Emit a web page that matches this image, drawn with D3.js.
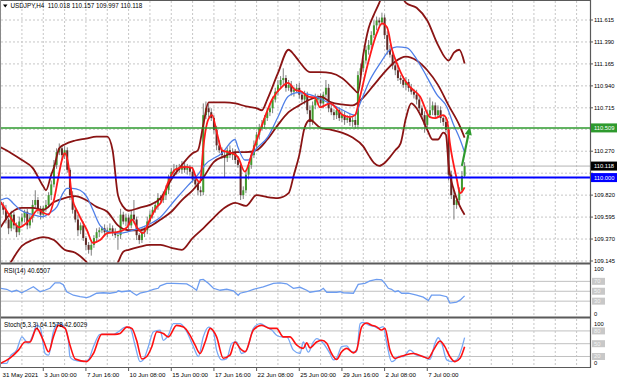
<!DOCTYPE html>
<html><head><meta charset="utf-8">
<script src="https://cdn.jsdelivr.net/npm/d3@7"></script>
<style>html,body{margin:0;padding:0;background:#fff;}svg{display:block;font-family:"Liberation Sans",Arial,sans-serif;}</style>
</head><body><svg id="c" width="620" height="383"></svg>
<script>
// ---------------- DATA ----------------
const symbolTitle = "USDJPY,H4  110.018 110.157 109.997 110.118";
const rsiTitle = "RSI(14) 40.6507";
const stochTitle = "Stoch(5,3,3) 64.1578 42.6029";
const firstOpen = 109.75;
const closes = [
109.72,109.67,109.57,109.48,109.62,109.51,109.44,109.55,109.59,109.65,
109.51,109.59,109.72,109.77,109.67,109.62,109.69,109.72,109.82,109.93,
110.13,110.26,110.30,110.23,110.28,110.08,109.82,109.67,109.57,109.46,
109.51,109.38,109.31,109.26,109.31,109.38,109.44,109.46,109.48,109.44,
109.46,109.48,109.44,109.41,109.41,109.62,109.55,109.59,109.51,109.62,
109.57,109.41,109.36,109.44,109.46,109.55,109.62,109.67,109.72,109.79,
109.77,109.82,109.87,110.00,110.06,110.08,110.10,110.08,110.12,110.08,
110.10,110.06,109.98,109.93,109.87,109.85,110.64,110.71,110.67,110.61,
110.49,110.33,110.28,110.23,110.20,110.28,110.23,110.26,110.18,110.13,
109.82,109.87,110.03,110.13,110.23,110.33,110.44,110.51,110.54,110.61,
110.67,110.71,110.80,110.88,110.95,111.00,111.02,110.92,110.95,110.88,
110.90,110.92,110.85,110.80,110.85,110.69,110.57,110.74,110.80,110.82,
110.76,110.85,110.92,110.71,110.67,110.64,110.69,110.61,110.64,110.59,
110.61,110.57,110.59,110.54,111.05,111.12,111.20,111.31,111.36,111.46,
111.56,111.61,111.59,111.64,111.46,111.31,111.26,111.15,111.10,111.02,
111.00,110.95,110.98,110.92,110.88,110.85,110.80,110.71,110.64,110.54,
110.64,110.69,110.74,110.64,110.69,110.61,110.57,110.49,110.03,109.82,
109.72,109.77,109.87,110.018,110.118];
// wick lengths in hundredths of a yen
const upperWick = [
4,3,5,2,4,3,3,5,4,2, 3,4,5,10,3,4,2,5,3,4, 5,4,5,3,4,3,2,4,3,5, 3,4,2,3,5,3,4,3,2,4,
3,5,3,4,3,6,3,4,3,5, 15,3,2,4,3,5,4,3,4,5, 3,4,5,3,4,6,3,4,5,3, 4,3,5,4,3,4,12,7,5,4,
3,4,5,3,4,3,5,4,3,4, 3,4,5,3,4,5,3,4,5,3, 4,5,3,4,5,4,10,3,5,4, 3,4,5,3,4,3,5,4,6,3,
4,3,8,4,5,3,4,3,5,4, 3,4,3,5,4,5,3,4,5,4, 5,4,3,5,3,4,5,3,4,5, 3,4,5,3,4,3,5,4,3,4,
5,13,4,3,5,4,3,5,3,4, 5,4,3,5,4];
const lowerWick = [
3,5,4,6,3,4,5,3,4,5, 4,3,5,3,4,5,3,4,3,5, 3,4,3,5,4,3,5,4,3,6, 4,3,5,4,6,3,4,5,3,4,
5,3,4,3,15,4,3,5,4,3, 4,5,4,3,5,4,3,4,3,5, 4,3,5,4,3,4,5,3,4,3, 5,4,3,4,5,4,3,4,5,3,
4,5,3,4,20,4,3,5,4,3, 5,4,3,5,4,3,4,5,3,4, 3,4,5,3,4,3,5,4,3,4, 5,3,4,3,5,4,5,3,4,5,
4,5,3,4,3,5,4,3,4,5, 3,4,5,4,3,5,4,3,5,4, 3,5,4,3,4,5,3,4,5,3, 4,3,5,4,3,4,5,3,4,8,
4,3,5,4,3,5,4,3,6,4, 15,4,5,3,2];

const priceTicks = [109.145,109.370,109.595,109.820,110.045,110.270,110.495,110.715,110.940,111.165,111.390,111.615];
const hiddenTicks = [110.045,110.495]; // labels covered by the level boxes
const dateBars = [0,16,32,48,64,80,96,112,128,144,160];
const dateLabels = ["31 May 2021","3 Jun 00:00","7 Jun 16:00","10 Jun 08:00","15 Jun 00:00","17 Jun 16:00","22 Jun 08:00","25 Jun 00:00","29 Jun 16:00","2 Jul 08:00","7 Jul 00:00"];

const greenLevel = 110.509, blueLevel = 110.000, bidLevel = 110.118;
const arrowFrom = [173.0, 110.12], arrowTo = [176.0, 110.52];

// [bar, price]
const bbUpper = [[0,110.31],[4,110.25],[8,110.18],[12,110.10],[16,109.91],[17,109.87],[19,110.03],[20,110.10],[22,110.30],[24,110.34],[28,110.38],[32,110.40],[36,110.42],[40,110.42],[42,110.28],[44,109.82],[46,109.70],[48,109.66],[52,109.69],[56,109.72],[60,109.79],[64,109.98],[68,110.13],[72,110.25],[74,110.28],[76,110.54],[78,110.77],[84,110.77],[88,110.76],[92,110.73],[96,110.71],[98,110.69],[100,110.80],[104,111.07],[108,111.31],[110,111.26],[112,111.19],[116,111.08],[120,111.08],[124,111.07],[128,111.02],[132,110.92],[134,110.87],[136,111.26],[138,111.53],[140,111.67],[142,111.79],[144,111.94],[148,111.97],[152,111.79],[156,111.74],[160,111.61],[164,111.36],[168,111.20],[170,111.28],[172,111.31],[174,111.17]];
const bbMiddle = [[0,109.49],[4,109.64],[8,109.69],[12,109.69],[16,109.67],[20,109.75],[24,109.79],[28,109.81],[32,109.77],[36,109.70],[40,109.65],[44,109.51],[48,109.46],[52,109.46],[56,109.50],[60,109.57],[64,109.65],[68,109.77],[72,109.87],[76,110.00],[80,110.16],[84,110.22],[88,110.26],[92,110.26],[96,110.28],[100,110.39],[104,110.54],[108,110.67],[112,110.74],[116,110.80],[120,110.83],[124,110.77],[128,110.75],[132,110.74],[136,110.82],[140,110.95],[144,111.08],[148,111.19],[152,111.24],[156,111.20],[160,111.10],[164,110.95],[168,110.74],[172,110.54],[174,110.41]];
const bbLower = [[0,108.95],[4,109.14],[8,109.30],[12,109.36],[16,109.39],[20,109.36],[24,109.26],[28,109.23],[32,109.14],[36,109.00],[40,108.95],[44,109.13],[46,109.24],[48,109.26],[52,109.29],[56,109.31],[60,109.31],[64,109.28],[68,109.26],[72,109.38],[76,109.48],[80,109.59],[84,109.69],[88,109.74],[92,109.71],[96,109.82],[100,109.80],[104,109.79],[108,109.84],[110,110.03],[112,110.23],[114,110.51],[116,110.59],[120,110.51],[124,110.49],[128,110.46],[132,110.41],[136,110.32],[138,110.23],[140,110.15],[142,110.12],[144,110.15],[146,110.21],[148,110.28],[150,110.35],[152,110.61],[154,110.76],[156,110.71],[158,110.61],[160,110.49],[162,110.39],[164,110.39],[166,110.46],[167,110.44],[168,110.13],[170,109.87],[172,109.72],[174,109.62]];
const maFast = [[0,109.75],[2,109.67],[5,109.54],[7,109.49],[11,109.57],[14,109.67],[16,109.64],[18,109.62],[20,109.77],[21.5,109.98],[23,110.18],[24,110.25],[25.3,110.15],[26.8,109.80],[29,109.64],[32.4,109.46],[34.6,109.33],[37.3,109.36],[40,109.43],[43.6,109.44],[47.4,109.49],[49.3,109.57],[51.1,109.49],[53.4,109.43],[56,109.57],[58.6,109.70],[60,109.74],[62.8,109.95],[65.4,110.08],[69.1,110.11],[71.8,110.10],[73.6,109.98],[74.8,109.95],[75.9,110.28],[77.8,110.59],[79.3,110.64],[81.1,110.46],[83,110.28],[86.8,110.25],[89,110.21],[91.6,110.06],[94.3,110.25],[96.5,110.42],[99.1,110.62],[101.8,110.80],[105.5,110.93],[107.8,110.97],[110.4,110.90],[113,110.88],[115.3,110.83],[117.9,110.82],[119.8,110.72],[123.5,110.76],[128.4,110.64],[131,110.62],[132.9,110.64],[134.8,110.83],[137.4,111.13],[141.1,111.48],[143,111.58],[144.9,111.54],[146.8,111.31],[148.6,111.17],[150.9,111.03],[153.5,110.93],[157.3,110.83],[161,110.62],[162.9,110.61],[165.9,110.64],[167.4,110.59],[168.5,110.35],[171.1,109.98],[172.3,109.84],[174,109.90]];
const maSlow = [[0,109.77],[2.4,109.79],[4.6,109.74],[7.3,109.67],[12.2,109.62],[15.9,109.60],[18.5,109.64],[21.1,109.70],[23.4,109.84],[24.9,109.89],[26.8,109.89],[29.8,109.87],[32.4,109.80],[34.6,109.67],[37.3,109.51],[41,109.44],[44.8,109.43],[49.6,109.46],[54.9,109.51],[59.8,109.59],[65.4,109.77],[70.3,109.92],[74,110.03],[76.6,110.13],[83,110.25],[87.9,110.39],[89,110.31],[91.6,110.18],[92.8,110.18],[95.4,110.28],[100.3,110.42],[104,110.62],[107.8,110.83],[111.5,110.87],[116,110.85],[123.5,110.76],[128.4,110.69],[132.9,110.64],[134.8,110.76],[138.5,111.00],[142.3,111.17],[146,111.31],[148.6,111.34],[152.4,111.33],[156.1,111.21],[159.9,111.03],[163.6,110.85],[167.4,110.72],[169.6,110.56],[172.3,110.39],[174,110.26]];

const rsiLevels = [70,50,30];
const rsi = [[0,56],[2.3,54],[4.2,49],[6,52],[7.9,47],[9.8,52],[12.3,59],[14.8,49],[16.6,52],[18.5,56],[20.4,67],[22.3,67],[23.5,63],[24.8,49],[27.3,42],[29.8,39],[32.3,37],[33.5,39],[36,46],[38.5,47],[41,46],[43.5,48],[44.1,51],[45.4,49],[48.5,51],[49.8,46],[51,42],[52.3,46],[54.8,49],[57.3,54],[59.1,56],[59.8,61],[62.3,66],[64.8,66],[69.8,65],[71.7,59],[73.5,52],[74.8,73],[76,74],[77.9,66],[79.8,56],[82.3,52],[84.8,54],[87.3,51],[89.1,42],[89.8,46],[92.3,49],[94.8,54],[98.5,59],[102.3,66],[104.8,67],[107.3,65],[109.8,56],[112.3,58],[114.8,52],[116,48],[119.8,51],[121,56],[122.3,48],[126,48],[127.3,49],[128.5,47],[132.3,46],[134.1,64],[136.6,66],[138.5,71],[141,74],[142.9,73],[144.1,66],[145.4,56],[146.6,54],[147.9,49],[149.1,51],[150.4,46],[152.9,46],[156,42],[158.5,38],[160.4,31],[161.6,42],[164.8,42],[167.3,39],[168.5,26],[169.8,27],[171,28],[172.3,32],[174,40.65]];
const stochLevels = [80,50,20];
const stochMain = [[0,4],[2.3,4],[3.5,20],[6,35],[8,66],[9.2,58],[10.4,51],[12.3,74],[13.5,93],[14.8,89],[16.7,27],[18,23],[19.8,78],[21.7,97],[23.5,93],[25.4,58],[26,19.5],[27.3,12],[31,8],[32.9,12],[34.8,43],[37.3,72],[42.3,72],[44.2,78],[46.7,89],[48.5,88],[50.4,47],[52.3,8],[53.5,12],[55.4,43],[57.3,78],[59.8,82],[61,58],[62.9,70],[64.8,97],[67.3,97],[69.8,78],[72.3,43],[74.2,20],[76,66],[78,89],[79.8,78],[81,35],[83,12],[84.8,15],[86.7,51],[88.5,54],[90.4,27],[92.3,35],[94.8,86],[97.3,97],[99.8,89],[101.7,82],[103.5,70],[105.4,66],[107.3,66],[109.8,35],[112.3,27],[113.5,54],[115.4,30],[117.3,54],[118.5,62],[121,51],[123.5,27],[124.8,12],[126,16],[127.9,43],[129.8,45],[131.6,31],[133.5,31],[134.8,97],[136,100],[137.9,94],[140.4,90],[141.6,86],[143.5,90],[144.8,51],[146.6,8],[147.9,12],[149.1,20],[151,20],[153.5,35],[156,23],[158.5,20],[161,13],[162.9,51],[164.1,64],[165.4,51],[167.3,12],[169.1,8],[171,12],[172.9,39],[174,64.16]];
const stochSignal = [[0,4],[3.5,16],[6.7,35],[9.2,54],[11,54],[13.5,86],[16,58],[18,31],[19.8,66],[21.7,93],[24.2,86],[26,47],[28,14],[32.3,8],[34.8,27],[37.9,72],[42.9,72],[44.8,74],[47.3,89],[49.2,86],[51,58],[53,14],[54.8,20],[56.7,43],[58.6,78],[61,74],[62.9,66],[66,93],[68.6,89],[71,70],[72.9,47],[74.8,27],[76.7,54],[78.6,86],[81,66],[83.5,16],[86,23],[87.9,54],[89.8,39],[91.7,31],[94.8,82],[97.9,93],[101,86],[103.5,86],[106,66],[108.5,66],[111,47],[113.5,39],[114.8,52],[116,40],[118.5,54],[120.4,58],[122.3,51],[124.1,27],[126,13],[127.9,31],[129.8,39],[132.3,28.5],[133.5,35],[135.4,89.5],[137.3,98.5],[139.1,93.5],[141,89.5],[142.9,82],[144.1,86],[146,35],[147.9,15.6],[149.8,19.5],[151.6,23],[154.8,27],[158.5,19.5],[160.4,15.6],[162.3,35],[164.8,56],[166.6,43],[168.5,19.5],[170.4,8],[172.3,15.6],[174,42.6]];

// ---------------- DRAW ----------------
const svg = d3.select("#c");
const RIGHT = 590;
const x = d3.scaleLinear().domain([0,174]).range([0.6,464.6]);
const y = d3.scaleLinear().domain([109.145,111.615]).range([261,20]);
const yR = d3.scaleLinear().domain([0,100]).range([316,266.5]);
const yS = d3.scaleLinear().domain([0,100]).range([365,322.4]);

const defs = svg.append("defs");
function clip(id,x0,y0,w,h){defs.append("clipPath").attr("id",id).append("rect").attr("x",x0).attr("y",y0).attr("width",w).attr("height",h);}
clip("cm",1,1,RIGHT-1,261.5); clip("cr",1,265,RIGHT-1,51.5); clip("cs",1,319,RIGHT-1,47.5);

const panels = [{t:1,b:262.5},{t:265,b:316.5},{t:319,b:366.5}];
const gridColor = "#c6c6c6";
const gridBars = d3.range(0,221,8);
panels.forEach(p=>{
  svg.append("g").selectAll("line").data(gridBars).join("line")
    .attr("x1",d=>x(d)).attr("x2",d=>x(d)).attr("y1",p.t).attr("y2",p.b)
    .attr("stroke",gridColor).attr("stroke-width",1).attr("stroke-dasharray","2,2");
});
svg.append("g").selectAll("line").data(priceTicks).join("line")
  .attr("x1",1).attr("x2",RIGHT).attr("y1",d=>y(d)).attr("y2",d=>y(d))
  .attr("stroke",gridColor).attr("stroke-dasharray","2,2");

svg.append("g").selectAll("line").data(rsiLevels).join("line")
  .attr("x1",1).attr("x2",RIGHT).attr("y1",d=>yR(d)).attr("y2",d=>yR(d)).attr("stroke","#c0c0c0");
svg.append("g").selectAll("line").data(stochLevels).join("line")
  .attr("x1",1).attr("x2",RIGHT).attr("y1",d=>yS(d)).attr("y2",d=>yS(d)).attr("stroke","#c0c0c0");

const main = svg.append("g").attr("clip-path","url(#cm)");
main.append("line").attr("x1",1).attr("x2",RIGHT).attr("y1",y(bidLevel)).attr("y2",y(bidLevel)).attr("stroke","#b4b4b4");

const candles = closes.map((c,i)=>{
  const o = i===0?firstOpen:closes[i-1];
  return {i,o,c,h:Math.max(o,c)+upperWick[i]/100,l:Math.min(o,c)-lowerWick[i]/100};
});
const cg = main.append("g");
cg.selectAll("line").data(candles).join("line")
  .attr("x1",d=>x(d.i)).attr("x2",d=>x(d.i)).attr("y1",d=>y(d.h)).attr("y2",d=>y(d.l))
  .attr("stroke","#707070").attr("stroke-width",0.9);
cg.selectAll("rect").data(candles).join("rect")
  .attr("x",d=>x(d.i)-1).attr("width",2)
  .attr("y",d=>y(Math.max(d.o,d.c))).attr("height",d=>Math.max(1,Math.abs(y(d.o)-y(d.c))))
  .attr("fill",d=>d.c>=d.o?"#3f9a2c":"#5e2a26");

const lineM = d3.line().x(d=>x(d[0])).y(d=>y(d[1])).curve(d3.curveMonotoneX);
[bbUpper,bbMiddle,bbLower].forEach(s=>main.append("path").attr("d",lineM(s)).attr("fill","none").attr("stroke","#8a1414").attr("stroke-width",1.8));
main.append("path").attr("d",lineM(maSlow)).attr("fill","none").attr("stroke","#4f7fe8").attr("stroke-width",1.3);
main.append("path").attr("d",lineM(maFast)).attr("fill","none").attr("stroke","#ff1a1a").attr("stroke-width",1.8);

main.append("line").attr("x1",1).attr("x2",RIGHT).attr("y1",y(greenLevel)).attr("y2",y(greenLevel)).attr("stroke","#2e9a2e").attr("stroke-width",1.5);
main.append("line").attr("x1",1).attr("x2",RIGHT).attr("y1",y(blueLevel)).attr("y2",y(blueLevel)).attr("stroke","#0000ff").attr("stroke-width",2);

const ax0=x(arrowFrom[0]), ay0=y(arrowFrom[1]), ax1=x(arrowTo[0]), ay1=y(arrowTo[1]);
const ang = Math.atan2(ay1-ay0, ax1-ax0);
const hl=8, hw=3.5;
const bx = ax1 - hl*Math.cos(ang), by = ay1 - hl*Math.sin(ang);
main.append("line").attr("x1",ax0).attr("y1",ay0).attr("x2",bx).attr("y2",by).attr("stroke","#2e9a2e").attr("stroke-width",2.2);
main.append("path").attr("d",`M${ax1},${ay1}L${bx - hw*Math.sin(ang)},${by + hw*Math.cos(ang)}L${bx + hw*Math.sin(ang)},${by - hw*Math.cos(ang)}Z`).attr("fill","#2e9a2e");

const lineR = d3.line().x(d=>x(d[0])).y(d=>yR(d[1]));
svg.append("g").attr("clip-path","url(#cr)").append("path").attr("d",lineR(rsi)).attr("fill","none").attr("stroke","#6c9cf0").attr("stroke-width",1.3);
const lineS = d3.line().x(d=>x(d[0])).y(d=>yS(d[1])).curve(d3.curveMonotoneX);
const sg = svg.append("g").attr("clip-path","url(#cs)");
sg.append("path").attr("d",lineS(stochMain)).attr("fill","none").attr("stroke","#78a8f4").attr("stroke-width",1.3);
sg.append("path").attr("d",lineS(stochSignal)).attr("fill","none").attr("stroke","#ff1010").attr("stroke-width",1.6);

const bc = "#5a5a5a";
[[0.5,RIGHT],[263.5,RIGHT],[317.5,RIGHT],[367.5,RIGHT]].forEach(([yy,xr],k)=>{
  svg.append("line").attr("x1",0).attr("x2",xr).attr("y1",yy).attr("y2",yy).attr("stroke",bc).attr("stroke-width",k===0||k===3?1:2);
});
svg.append("line").attr("x1",RIGHT+0.5).attr("x2",RIGHT+0.5).attr("y1",0).attr("y2",368).attr("stroke",bc).attr("stroke-width",1.2);
svg.append("line").attr("x1",0.5).attr("x2",0.5).attr("y1",0).attr("y2",368).attr("stroke","#888").attr("stroke-width",1);

const ax = svg.append("g").attr("font-size","5.8px").attr("fill","#000");
priceTicks.forEach(v=>{
  ax.append("line").attr("x1",RIGHT).attr("x2",RIGHT+3).attr("y1",y(v)).attr("y2",y(v)).attr("stroke",bc);
  if(!hiddenTicks.includes(v)) ax.append("text").attr("x",RIGHT+4).attr("y",y(v)+2).text(v.toFixed(3));
});
function box(v,fill,label){
  const yy=y(v);
  ax.append("rect").attr("x",RIGHT+1).attr("y",yy-4.5).attr("width",26).attr("height",9).attr("fill",fill);
  ax.append("text").attr("x",RIGHT+4).attr("y",yy+2).attr("fill","#fff").text(label);
}
box(greenLevel,"#2e9a2e",greenLevel.toFixed(3));
box(bidLevel,"#000000",bidLevel.toFixed(3));
box(blueLevel,"#0000ff",blueLevel.toFixed(3));

function subLabels(sc,levels){
  ax.append("text").attr("x",RIGHT+4).attr("y",sc(100)+4).text("100");
  ax.append("text").attr("x",RIGHT+4).attr("y",sc(0)).text("0");
  levels.forEach(l=>{
    ax.append("rect").attr("x",RIGHT+2).attr("y",sc(l)-3.5).attr("width",13).attr("height",7).attr("fill","#c8c8c8");
    ax.append("text").attr("x",RIGHT+4).attr("y",sc(l)+2).attr("fill","#f4f4f4").text(l);
  });
}
subLabels(yR,rsiLevels); subLabels(yS,stochLevels);

const tg = svg.append("g").attr("font-size","6.3px").attr("fill","#000");
tg.append("path").attr("d","M3,4.5L7.5,4.5L5.25,7.5Z").attr("fill","#000");
tg.append("text").attr("x",10.5).attr("y",7.8).attr("xml:space","preserve").text(symbolTitle);
tg.append("text").attr("x",4).attr("y",273).text(rsiTitle);
tg.append("text").attr("x",4).attr("y",327).text(stochTitle);

const dg = svg.append("g").attr("font-size","6.2px").attr("fill","#000");
dateBars.forEach((b,k)=>{
  const xx = k===0?1.5:x(b);
  if(k>0) dg.append("line").attr("x1",xx).attr("x2",xx).attr("y1",367).attr("y2",371).attr("stroke",bc);
  dg.append("text").attr("x",xx+1).attr("y",377).text(dateLabels[k]);
});
</script></body></html>
